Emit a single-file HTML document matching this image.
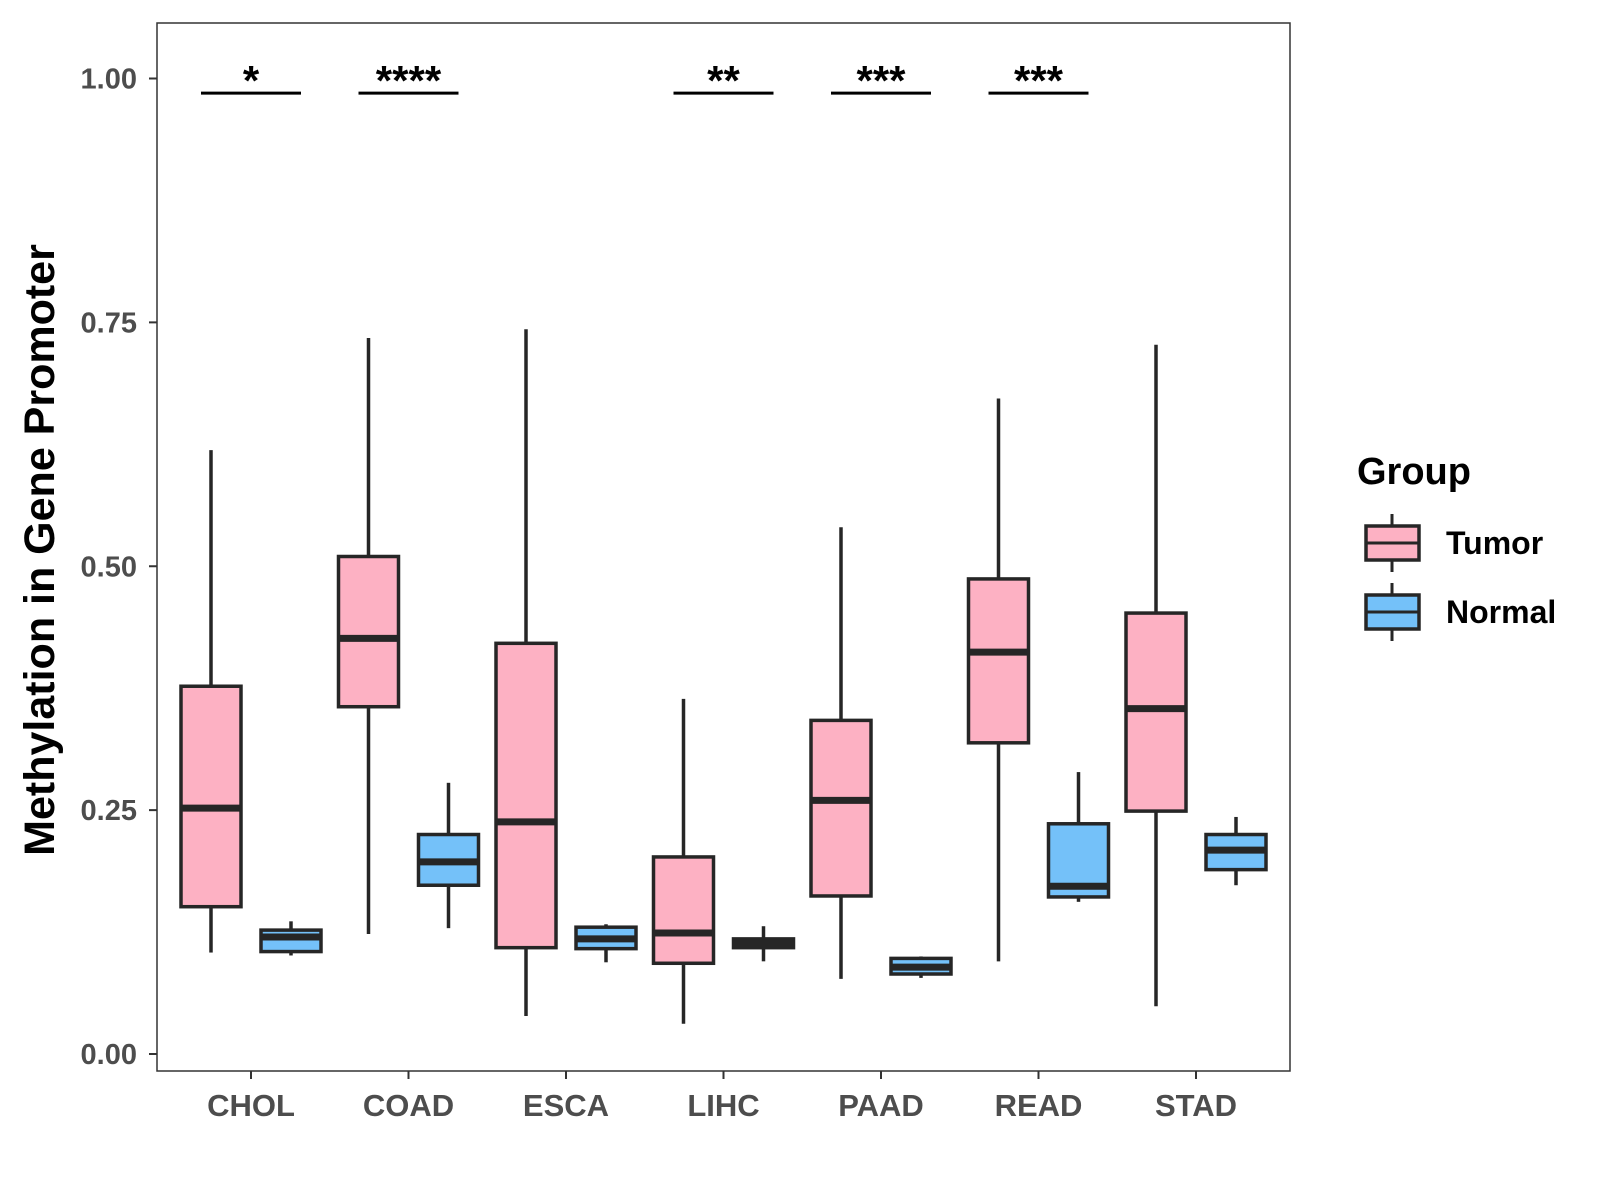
<!DOCTYPE html>
<html><head><meta charset="utf-8"><style>
body{margin:0;background:#fff;}
svg{display:block;font-family:"Liberation Sans",Arial,sans-serif;}
</style></head><body>
<svg id="chart" width="1600" height="1200"></svg>
<script>
const categories=["CHOL","COAD","ESCA","LIHC","PAAD","READ","STAD"];
// [lower whisker, Q1, median, Q3, upper whisker]
const tumorStats=[
[0.104,0.151,0.252,0.377,0.619],
[0.123,0.356,0.426,0.510,0.734],
[0.039,0.109,0.238,0.421,0.743],
[0.031,0.093,0.124,0.202,0.364],
[0.077,0.162,0.260,0.342,0.540],
[0.095,0.319,0.412,0.487,0.672],
[0.049,0.249,0.354,0.452,0.727]];
const normalStats=[
[0.101,0.105,0.120,0.127,0.136],
[0.129,0.173,0.197,0.225,0.278],
[0.094,0.108,0.118,0.130,0.133],
[0.095,0.109,0.113,0.118,0.131],
[0.078,0.082,0.089,0.098,0.100],
[0.156,0.161,0.172,0.236,0.289],
[0.173,0.189,0.209,0.225,0.243]];
const sigLabels=["*","****","","**","***","***",""];
const yTicks=[0,0.25,0.5,0.75,1.0];
const yTickLabels=["0.00","0.25","0.50","0.75","1.00"];

const NS="http://www.w3.org/2000/svg";
const svg=document.getElementById('chart');
const PL=157,PR=1290,PT=23,PB=1071;
const yS=v=>1054-v*975.5;
const xS=i=>251+i*157.5;
function el(tag,attrs,parent){const e=document.createElementNS(NS,tag);for(const k in attrs)e.setAttribute(k,attrs[k]);(parent||svg).appendChild(e);return e;}

const panel=el('rect',{x:PL,y:PT,width:PR-PL,height:PB-PT,fill:'#fff',stroke:'#333','stroke-width':1.5});



yTicks.forEach((v,i)=>{
  const t=el('line',{x1:PL-8,x2:PL,y1:yS(v),y2:yS(v),stroke:'#333','stroke-width':2});
  
  
  const l=el('text',{x:PL-20,y:yS(v)+10,'text-anchor':'end','font-size':29,'font-weight':'bold',fill:'#4d4d4d'});
  l.textContent=yTickLabels[i];
  
  
});
categories.forEach((c,i)=>{
  const t=el('line',{x1:xS(i),x2:xS(i),y1:PB,y2:PB+8,stroke:'#333','stroke-width':2});
  
  
  const l=el('text',{x:xS(i),y:1116,'text-anchor':'middle','font-size':31,'font-weight':'bold',fill:'#4d4d4d'});
  l.textContent=c;
  
  
});

function drawBox(cx,s,fill,name){
  const g=el('g',{});
  
  
  const w=30;
  el('line',{x1:cx,x2:cx,y1:yS(s[0]),y2:yS(s[1]),stroke:'#262626','stroke-width':3.5},g);
  el('line',{x1:cx,x2:cx,y1:yS(s[3]),y2:yS(s[4]),stroke:'#262626','stroke-width':3.5},g);
  el('rect',{x:cx-w,y:yS(s[3]),width:2*w,height:yS(s[1])-yS(s[3]),fill:fill,stroke:'#262626','stroke-width':3.5},g);
  el('line',{x1:cx-w,x2:cx+w,y1:yS(s[2]),y2:yS(s[2]),stroke:'#262626','stroke-width':7},g);
}
categories.forEach((c,i)=>{
  drawBox(xS(i)-40,tumorStats[i],'#FDB1C3','tumor-box-'+c.toLowerCase());
  drawBox(xS(i)+40,normalStats[i],'#74C1F9','normal-box-'+c.toLowerCase());
  if(sigLabels[i]){
    const b=el('line',{x1:xS(i)-50,x2:xS(i)+50,y1:yS(0.985),y2:yS(0.985),stroke:'#000','stroke-width':3});
    
    
    const s=el('text',{x:xS(i),y:yS(0.985)+2,'text-anchor':'middle','font-size':42,'font-weight':'bold',fill:'#000'});
    s.textContent=sigLabels[i];
    
    
  }
});

const yt=el('text',{x:0,y:0,transform:'translate(54,550) rotate(-90)','text-anchor':'middle','font-size':43,'font-weight':'bold',fill:'#000'});
yt.textContent='Methylation in Gene Promoter';



const lt=el('text',{x:1357,y:484,'font-size':38,'font-weight':'bold',fill:'#000'});
lt.textContent='Group';


[['Tumor','#FDB1C3',543],['Normal','#74C1F9',612]].forEach(([n,f,cy])=>{
  const g=el('g',{});
  
  
  el('line',{x1:1392,x2:1392,y1:cy-29,y2:cy+29,stroke:'#262626','stroke-width':3},g);
  el('rect',{x:1366,y:cy-17,width:53,height:34,fill:f,stroke:'#262626','stroke-width':3.5},g);
  el('line',{x1:1366,x2:1419,y1:cy,y2:cy,stroke:'#262626','stroke-width':3},g);
  const t=el('text',{x:1446,y:cy+11,'font-size':32,'font-weight':'bold',fill:'#000'},g);
  t.textContent=n;
});
</script>
</body></html>
